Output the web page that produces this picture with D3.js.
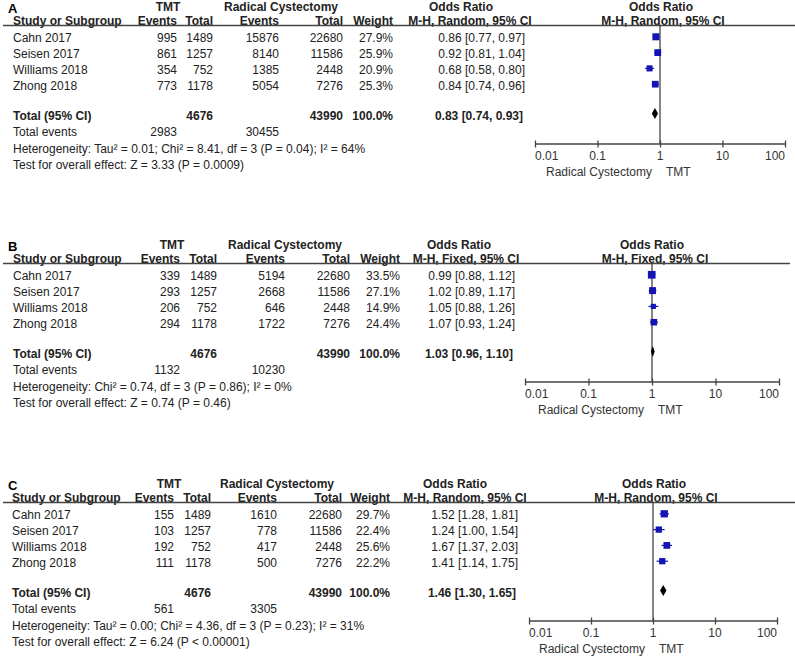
<!DOCTYPE html>
<html><head><meta charset="utf-8">
<script src="https://cdn.jsdelivr.net/npm/d3@7"></script>
<style>
body{margin:0;background:#fff;}
svg{display:block;font-family:"Liberation Sans",Arial,sans-serif;}
</style></head><body>
<svg id="chart" width="795" height="657"></svg>
<script>
// ---------- DATA ----------
const studies = ["Cahn 2017", "Seisen 2017", "Williams 2018", "Zhong 2018"];
const tmtTotal = [1489, 1257, 752, 1178];
const rcTotal = [22680, 11586, 2448, 7276];
const axisTicks = [0.01, 0.1, 1, 10, 100];
const axisTickLabels = ["0.01", "0.1", "1", "10", "100"];

// Panel A
const aTmtEvents = [995, 861, 354, 773];
const aRcEvents = [15876, 8140, 1385, 5054];
const aWeight = [27.9, 25.9, 20.9, 25.3];
const aOR = [0.86, 0.92, 0.68, 0.84];
const aLo = [0.77, 0.81, 0.58, 0.74];
const aHi = [0.97, 1.04, 0.80, 0.96];
const aTotal = [0.83, 0.74, 0.93];
const aTotalEvents = [2983, 30455];
const aHet = "Heterogeneity: Tau² = 0.01; Chi² = 8.41, df = 3 (P = 0.04); I² = 64%";
const aTest = "Test for overall effect: Z = 3.33 (P = 0.0009)";

// Panel B
const bTmtEvents = [339, 293, 206, 294];
const bRcEvents = [5194, 2668, 646, 1722];
const bWeight = [33.5, 27.1, 14.9, 24.4];
const bOR = [0.99, 1.02, 1.05, 1.07];
const bLo = [0.88, 0.89, 0.88, 0.93];
const bHi = [1.12, 1.17, 1.26, 1.24];
const bTotal = [1.03, 0.96, 1.10];
const bTotalEvents = [1132, 10230];
const bHet = "Heterogeneity: Chi² = 0.74, df = 3 (P = 0.86); I² = 0%";
const bTest = "Test for overall effect: Z = 0.74 (P = 0.46)";

// Panel C
const cTmtEvents = [155, 103, 192, 111];
const cRcEvents = [1610, 778, 417, 500];
const cWeight = [29.7, 22.4, 25.6, 22.2];
const cOR = [1.52, 1.24, 1.67, 1.41];
const cLo = [1.28, 1.00, 1.37, 1.14];
const cHi = [1.81, 1.54, 2.03, 1.75];
const cTotal = [1.46, 1.30, 1.65];
const cTotalEvents = [561, 3305];
const cHet = "Heterogeneity: Tau² = 0.00; Chi² = 4.36, df = 3 (P = 0.23); I² = 31%";
const cTest = "Test for overall effect: Z = 6.24 (P < 0.00001)";

// ---------- LAYOUT ----------
const panels = [
  {label:"A", method:"M-H, Random, 95% CI", ev:aTmtEvents, rc:aRcEvents, w:aWeight, or:aOR, lo:aLo, hi:aHi, tot:aTotal, te:aTotalEvents, het:aHet, test:aTest,
   dy:0, c:{study:13, tmtEv:177, tmtTot:213, rcEv:279, rcTot:343, wt:393, orT:525, tmtHead:168, rcHead:281, orH1:461, orH2:470, pH1:661, pH2:663, ax0:535, ax1:785, lineEnd:795}},
  {label:"B", method:"M-H, Fixed, 95% CI", ev:bTmtEvents, rc:bRcEvents, w:bWeight, or:bOR, lo:bLo, hi:bHi, tot:bTotal, te:bTotalEvents, het:bHet, test:bTest,
   dy:238, c:{study:13, tmtEv:180, tmtTot:217, rcEv:285, rcTot:350, wt:400, orT:515, tmtHead:172, rcHead:285, orH1:459, orH2:466, pH1:652, pH2:655, ax0:525, ax1:779, lineEnd:790}},
  {label:"C", method:"M-H, Random, 95% CI", ev:cTmtEvents, rc:cRcEvents, w:cWeight, or:cOR, lo:cLo, hi:cHi, tot:cTotal, te:cTotalEvents, het:cHet, test:cTest,
   dy:477, c:{study:12, tmtEv:174, tmtTot:211, rcEv:277, rcTot:342, wt:390, orT:518, tmtHead:169, rcHead:277, orH1:455, orH2:465, pH1:654, pH2:656, ax0:529, ax1:777, lineEnd:795}}
];

const svg = d3.select("#chart");
const TXT = "#222", LINE = "#444", BLUE = "#1414b4";
const FS = 12;

function txt(g, x, y, s, anchor, bold, size, fill) {
  return g.append("text").attr("x", x).attr("y", y).attr("text-anchor", anchor || "start")
    .attr("font-size", size || FS).attr("font-weight", bold ? "bold" : "normal")
    .attr("fill", fill || TXT).text(s);
}
const f2 = d3.format(".2f");
const orText = (o, l, h) => `${f2(o)} [${f2(l)}, ${f2(h)}]`;

panels.forEach(p => {
  const g = svg.append("g").attr("transform", `translate(0,${p.dy})`);
  const c = p.c;
  const yH1 = 11, yH2 = 24.5, yLine = 25.5;
  const rowY = i => 42.3 + i * 15.8;
  const yTot = 119.5, yTE = 136, yHet = 152.5, yTest = 169;
  const yAxis = 144;

  // panel label and headers
  txt(g, 8, 13, p.label, "start", true, 13, "#000");
  txt(g, c.tmtHead, yH1, "TMT", "middle", true);
  txt(g, c.rcHead, yH1, "Radical Cystectomy", "middle", true);
  txt(g, c.orH1, yH1, "Odds Ratio", "middle", true);
  txt(g, c.pH1, yH1, "Odds Ratio", "middle", true);
  txt(g, c.study, yH2, "Study or Subgroup", "start", true);
  txt(g, c.tmtEv, yH2, "Events", "end", true);
  txt(g, c.tmtTot, yH2, "Total", "end", true);
  txt(g, c.rcEv, yH2, "Events", "end", true);
  txt(g, c.rcTot, yH2, "Total", "end", true);
  txt(g, c.wt, yH2, "Weight", "end", true);
  txt(g, c.orH2, yH2, p.method, "middle", true);
  txt(g, c.pH2, yH2, p.method, "middle", true);
  g.append("line").attr("x1", 3).attr("x2", c.lineEnd).attr("y1", yLine).attr("y2", yLine)
    .attr("stroke", LINE).attr("stroke-width", 1.5);

  // rows
  studies.forEach((s, i) => {
    const y = rowY(i);
    txt(g, c.study, y, s);
    txt(g, c.tmtEv, y, p.ev[i], "end");
    txt(g, c.tmtTot, y, tmtTotal[i], "end");
    txt(g, c.rcEv, y, p.rc[i], "end");
    txt(g, c.rcTot, y, rcTotal[i], "end");
    txt(g, c.wt, y, p.w[i].toFixed(1) + "%", "end");
    txt(g, c.orT, y, orText(p.or[i], p.lo[i], p.hi[i]), "end");
  });
  txt(g, c.study, yTot, "Total (95% CI)", "start", true);
  txt(g, c.tmtTot, yTot, d3.sum(tmtTotal), "end", true);
  txt(g, c.rcTot, yTot, d3.sum(rcTotal), "end", true);
  txt(g, c.wt, yTot, "100.0%", "end", true);
  txt(g, c.orT - 2, yTot, orText(p.tot[0], p.tot[1], p.tot[2]), "end", true);
  txt(g, c.study, yTE, "Total events");
  txt(g, c.tmtEv, yTE, p.te[0], "end");
  txt(g, c.rcEv, yTE, p.te[1], "end");
  txt(g, c.study, yHet, p.het);
  txt(g, c.study, yTest, p.test);

  // forest plot
  const x = d3.scaleLog().domain([0.01, 100]).range([c.ax0, c.ax1]);
  g.append("line").attr("x1", x(1)).attr("x2", x(1)).attr("y1", yLine).attr("y2", yAxis)
    .attr("stroke", LINE).attr("stroke-width", 1.3);

  const axis = d3.axisBottom(x).tickValues(axisTicks).tickSize(3).tickFormat("");
  const ag = g.append("g").attr("transform", `translate(0,${yAxis})`).call(axis);
  ag.select(".domain").attr("stroke", LINE).attr("stroke-width", 1.5).attr("d", `M${c.ax0},0H${c.ax1}`);
  ag.selectAll(".tick line").attr("y1", -3.5).attr("y2", 3.5).attr("stroke", LINE).attr("stroke-width", 1.3);
  axisTicks.forEach((t, i) => {
    const anchor = i === 0 ? "start" : (i === axisTicks.length - 1 ? "end" : "middle");
    txt(g, x(t), 160, axisTickLabels[i], anchor, false, FS, "#333");
  });
  txt(g, x(1) - 8, 176, "Radical Cystectomy", "end", false, FS, "#333");
  txt(g, x(1) + 6, 176, "TMT", "start", false, FS, "#333");

  studies.forEach((s, i) => {
    const cy = rowY(i) - 5.5;
    g.append("line").attr("x1", x(p.lo[i])).attr("x2", x(p.hi[i])).attr("y1", cy).attr("y2", cy)
      .attr("stroke", BLUE).attr("stroke-width", 1.2);
    const side = 1.33 * Math.sqrt(p.w[i]);
    g.append("rect").attr("x", x(p.or[i]) - side / 2).attr("y", cy - side / 2)
      .attr("width", side).attr("height", side).attr("fill", BLUE);
  });
  const dcy = yTot - 6;
  const pts = [[x(p.tot[1]), dcy], [x(p.tot[0]), dcy - 5.5], [x(p.tot[2]), dcy], [x(p.tot[0]), dcy + 5.5]];
  g.append("path").attr("d", d3.line()(pts) + "Z").attr("fill", "#000");
});
</script>
</body></html>
